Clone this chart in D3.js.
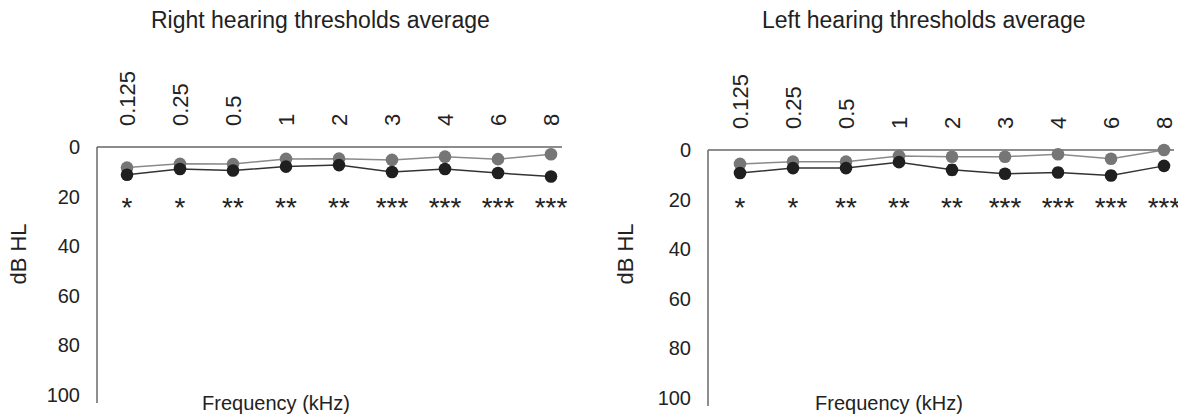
<!DOCTYPE html>
<html>
<head>
<meta charset="utf-8">
<script src="https://cdn.jsdelivr.net/npm/d3@7"></script>
<style>
  body { margin: 0; background: #fff; }
  svg text { font-family: "Liberation Sans", Arial, sans-serif; fill: #222; }
</style>
</head>
<body>
<div id="chart"></div>
<script>
// frequencies (kHz)
var freqs = ["0.125", "0.25", "0.5", "1", "2", "3", "4", "6", "8"];
var yTicks = [0, 20, 40, 60, 80, 100];
var stars = ["*", "*", "**", "**", "**", "***", "***", "***", "***"];

// right ear (dB HL)
var rightGray  = [8.3, 6.8, 6.9, 4.8, 4.7, 5.2, 3.9, 4.9, 2.9];
var rightBlack = [11.2, 8.9, 9.5, 7.9, 7.3, 10.1, 8.9, 10.5, 11.9];
var rightBlackErr = [0.8, 0.8, 0.8, 0.8, 0.8, 1.2, 0.8, 1.2, 1];

// left ear (dB HL)
var leftGray  = [5.6, 4.7, 4.7, 2.4, 2.7, 2.7, 1.7, 3.5, 0];
var leftBlack = [9.3, 7.3, 7.3, 4.9, 8.0, 9.6, 9.1, 10.3, 6.4];
var leftBlackErr = [1, 1, 1, 0.8, 2, 1.6, 1.8, 1.8, 1];

var panels = [
  { title: "Right hearing thresholds average", gray: rightGray, black: rightBlack, err: rightBlackErr,
    axisX: 97, x0: 127, x1: 551, lineEnd: 562, top: 147, titleX: 151, xlabX: 276, ylabX: 18 },
  { title: "Left hearing thresholds average", gray: leftGray, black: leftBlack, err: leftBlackErr,
    axisX: 708, x0: 740, x1: 1164, lineEnd: 1174, top: 150, titleX: 762, xlabX: 889, ylabX: 625 }
];

var svg = d3.select("#chart").append("svg")
  .attr("width", 1178)
  .attr("height", 415);

panels.forEach(function(p) {
  var x = d3.scalePoint().domain(freqs).range([p.x0, p.x1]);
  var y = d3.scaleLinear().domain([0, 100]).range([p.top, p.top + 248]);

  var g = svg.append("g");

  // title
  g.append("text")
    .attr("x", p.titleX)
    .attr("y", 28)
    .style("text-anchor", "start")
    .style("font-size", "23px")
    .text(p.title);

  // y axis
  var yAxis = d3.axisLeft(y).tickValues(yTicks).tickSize(0).tickPadding(17);
  var ya = g.append("g")
    .attr("transform", "translate(" + p.axisX + ",0)")
    .call(yAxis);
  ya.select(".domain").remove();
  ya.selectAll("text").style("font-size", "20px").attr("fill", "#222");

  g.append("line")
    .attr("x1", p.axisX).attr("x2", p.axisX)
    .attr("y1", y(0)).attr("y2", y(100) + 8)
    .attr("stroke", "#444").attr("stroke-width", 1.2);

  // x axis on top, labels rotated
  var xAxis = d3.axisTop(x).tickSize(0);
  var xa = g.append("g")
    .attr("transform", "translate(0," + y(0) + ")")
    .call(xAxis);
  xa.select(".domain").remove();
  xa.selectAll("text")
    .attr("transform", "rotate(-90)")
    .attr("x", 21)
    .attr("y", 0)
    .attr("dy", "0.35em")
    .style("text-anchor", "start")
    .style("font-size", "22px")
    .attr("fill", "#222");

  g.append("line")
    .attr("x1", p.axisX).attr("x2", p.lineEnd)
    .attr("y1", y(0)).attr("y2", y(0))
    .attr("stroke", "#666").attr("stroke-width", 1.5);

  // axis labels
  g.append("text")
    .attr("transform", "translate(" + p.ylabX + "," + 254 + ") rotate(-90)")
    .attr("dy", "0.35em")
    .style("text-anchor", "middle")
    .style("font-size", "22px")
    .text("dB HL");

  g.append("text")
    .attr("x", p.xlabX)
    .attr("y", 410)
    .style("text-anchor", "middle")
    .style("font-size", "20px")
    .text("Frequency (kHz)");

  // significance stars
  g.selectAll(".star").data(stars).enter().append("text")
    .attr("class", "star")
    .attr("x", function(d, i) { return x(freqs[i]); })
    .attr("y", 217)
    .style("text-anchor", "middle")
    .style("font-size", "28px")
    .text(function(d) { return d; });

  var line = d3.line()
    .x(function(d, i) { return x(freqs[i]); })
    .y(function(d) { return y(d); });

  // gray series
  g.append("path")
    .attr("d", line(p.gray))
    .attr("fill", "none")
    .attr("stroke", "#8a8a8a")
    .attr("stroke-width", 1.5);

  // black series
  g.append("path")
    .attr("d", line(p.black))
    .attr("fill", "none")
    .attr("stroke", "#333")
    .attr("stroke-width", 1.5);

  // error bars on black series
  var eb = g.selectAll(".err").data(p.black).enter().append("g").attr("class", "err");
  eb.append("line")
    .attr("x1", function(d, i) { return x(freqs[i]); })
    .attr("x2", function(d, i) { return x(freqs[i]); })
    .attr("y1", function(d, i) { return y(d - p.err[i]); })
    .attr("y2", function(d, i) { return y(d + p.err[i]); })
    .attr("stroke", "#222").attr("stroke-width", 1.2);
  [-1, 1].forEach(function(s) {
    eb.append("line")
      .attr("x1", function(d, i) { return x(freqs[i]) - 4; })
      .attr("x2", function(d, i) { return x(freqs[i]) + 4; })
      .attr("y1", function(d, i) { return y(d + s * p.err[i]); })
      .attr("y2", function(d, i) { return y(d + s * p.err[i]); })
      .attr("stroke", "#222").attr("stroke-width", 1.2);
  });

  g.selectAll(".gdot").data(p.gray).enter().append("circle")
    .attr("cx", function(d, i) { return x(freqs[i]); })
    .attr("cy", function(d) { return y(d); })
    .attr("r", 6.3)
    .attr("fill", "#767676");

  g.selectAll(".bdot").data(p.black).enter().append("circle")
    .attr("cx", function(d, i) { return x(freqs[i]); })
    .attr("cy", function(d) { return y(d); })
    .attr("r", 6.3)
    .attr("fill", "#1f1f1f");
});
</script>
</body>
</html>
